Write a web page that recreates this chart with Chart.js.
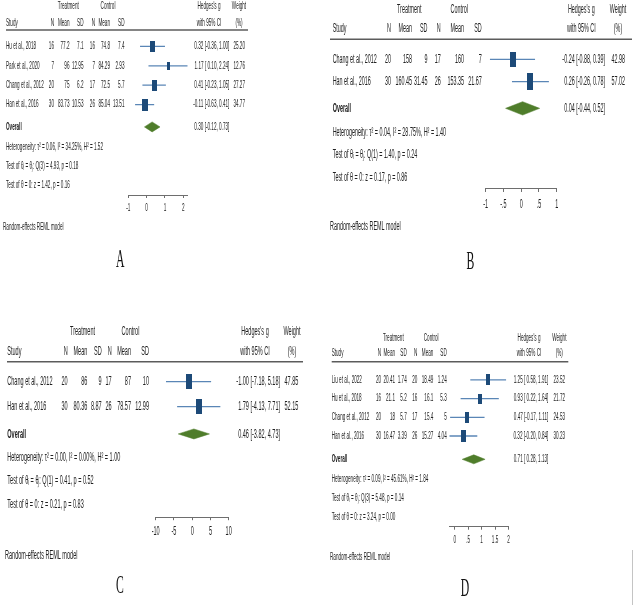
<!DOCTYPE html>
<html><head><meta charset="utf-8">
<script src="https://cdn.jsdelivr.net/npm/chart.js@4.4.0/dist/chart.umd.min.js"></script>
<style>
html,body{margin:0;padding:0;background:#fff;}
#wrap{position:relative;width:633px;height:605px;overflow:hidden;background:#fff;}
canvas{position:absolute;}
</style></head><body>
<div id="wrap">
<canvas id="pA" width="318" height="300" style="left:0px;top:0px"></canvas>
<canvas id="pB" width="313" height="300" style="left:320px;top:0px"></canvas>
<canvas id="pC" width="318" height="305" style="left:0px;top:300px"></canvas>
<canvas id="pD" width="313" height="305" style="left:320px;top:300px"></canvas>
<div style="position:absolute;left:632px;top:550px;width:1px;height:55px;background:#c4c4c4"></div>
</div>
<script>
// ---------- Panel A ----------
const studiesA = ["Hu et al., 2018", "Park et al., 2020", "Chang et al., 2012", "Han et al., 2016"];
const trtNA = [16, 7, 20, 30];
const trtMeanA = [77.2, 96, 75, 83.73];
const trtSDA = [7.1, 12.95, 6.2, 10.53];
const ctlNA = [16, 7, 17, 26];
const ctlMeanA = [74.8, 84.29, 72.5, 85.04];
const ctlSDA = [7.4, 2.93, 5.7, 13.51];
const effA = [0.32, 1.17, 0.41, -0.11];
const loA = [-0.36, 0.10, -0.23, -0.63];
const hiA = [1.00, 2.24, 1.05, 0.41];
const weightA = [25.20, 12.76, 27.27, 34.77];
const overallA = [0.30, -0.12, 0.73];
const statsA = ["Heterogeneity: τ² = 0.06, I² = 34.25%, H² = 1.52", "Test of θᵢ = θⱼ: Q(3) = 4.93, p = 0.18", "Test of θ = 0: z = 1.42, p = 0.16"];
const ticksA = [-1, 0, 1, 2];
const tickLabelsA = ["-1", "0", "1", "2"];

// ---------- Panel B ----------
const studiesB = ["Chang et al., 2012", "Han et al., 2016"];
const trtNB = [20, 30];
const trtMeanB = [158, 160.45];
const trtSDB = [9, 31.45];
const ctlNB = [17, 26];
const ctlMeanB = [160, 153.35];
const ctlSDB = [7, 21.67];
const effB = [-0.24, 0.26];
const loB = [-0.88, -0.26];
const hiB = [0.39, 0.78];
const weightB = [42.98, 57.02];
const overallB = [0.04, -0.44, 0.52];
const statsB = ["Heterogeneity: τ² = 0.04, I² = 28.75%, H² = 1.40", "Test of θᵢ = θⱼ: Q(1) = 1.40, p = 0.24", "Test of θ = 0: z = 0.17, p = 0.86"];
const ticksB = [-1, -0.5, 0, 0.5, 1];
const tickLabelsB = ["-1", "-.5", "0", ".5", "1"];

// ---------- Panel C ----------
const studiesC = ["Chang et al., 2012", "Han et al., 2016"];
const trtNC = [20, 30];
const trtMeanC = [86, 80.36];
const trtSDC = [9, 8.87];
const ctlNC = [17, 26];
const ctlMeanC = [87, 78.57];
const ctlSDC = [10, 12.99];
const effC = [-1.00, 1.79];
const loC = [-7.18, -4.13];
const hiC = [5.18, 7.71];
const weightC = [47.85, 52.15];
const overallC = [0.46, -3.82, 4.73];
const statsC = ["Heterogeneity: τ² = 0.00, I² = 0.00%, H² = 1.00", "Test of θᵢ = θⱼ: Q(1) = 0.41, p = 0.52", "Test of θ = 0: z = 0.21, p = 0.83"];
const ticksC = [-10, -5, 0, 5, 10];
const tickLabelsC = ["-10", "-5", "0", "5", "10"];

// ---------- Panel D ----------
const studiesD = ["Liu et al., 2022", "Hu et al., 2018", "Chang et al., 2012", "Han et al., 2016"];
const trtND = [20, 16, 20, 30];
const trtMeanD = [20.41, 21.1, 18, 16.47];
const trtSDD = [1.74, 5.2, 5.7, 3.39];
const ctlND = [20, 16, 17, 26];
const ctlMeanD = [18.49, 16.1, 15.4, 15.27];
const ctlSDD = [1.24, 5.3, 5, 4.04];
const effD = [1.25, 0.93, 0.47, 0.32];
const loD = [0.58, 0.22, -0.17, -0.20];
const hiD = [1.91, 1.64, 1.11, 0.84];
const weightD = [23.52, 21.72, 24.53, 30.23];
const overallD = [0.71, 0.28, 1.13];
const statsD = ["Heterogeneity: τ² = 0.09, I² = 45.61%, H² = 1.84", "Test of θᵢ = θⱼ: Q(3) = 5.48, p = 0.14", "Test of θ = 0: z = 3.24, p = 0.00"];
const ticksD = [0, 0.5, 1, 1.5, 2];
const tickLabelsD = ["0", ".5", "1", "1.5", "2"];

const headerCols = ["N", "Mean", "SD", "N", "Mean", "SD"];

// ---------- styling ----------
const CI_COLOR = '#5a86b6';
const SQ_COLOR = '#1d4a78';
const GREEN = '#4f7d2b';
const AXIS_COLOR = '#6e6e6e';
const TEXT_COLOR = '#222222';
const SANS = '"Liberation Sans", Arial, sans-serif';
const SERIF = '"Liberation Serif", "DejaVu Serif", serif';

// layout per panel (local pixel coordinates)
const layoutA = {W:318, H:300, xLeft:128.3, xRight:187.7, xMin:-1, xMax:2.24, top:27, unit:19.4,
  overallRow:5.15, statRows:[6.2, 7.16, 8.14], axisRow:8.66, tickLabelDy:13,
  hdr1Y:6, hdr2Y:22.7, lineY:30, lineX:[6, 248], studyX:6,
  colR:[54, 69.5, 83.5, 95, 110, 124.5], trtC:68.3, ctlC:108, hgC:209, wC:239, hgR:229.3, wR:245,
  randomX:3, randomY:226.7, letter:'A', letterX:120.3, letterY:260,
  font:10.5, sx:0.44, kv:2.1, kh:0.95, diaH:5};
const layoutB = {W:313, H:300, xLeft:165.7, xRight:236.7, xMin:-1, xMax:1, top:36.9, unit:22.4,
  overallRow:3.19, statRows:[4.28, 5.27, 6.27], axisRow:6.79, tickLabelDy:15.3,
  hdr1Y:10, hdr2Y:29, lineY:39.3, lineX:[10, 312], studyX:12.7,
  colR:[71, 92, 107.5, 120.7, 144, 161.7], trtC:89.2, ctlC:139.3, hgC:261.3, wC:298, hgR:285, wR:305,
  randomX:10, randomY:226.7, letter:'B', letterX:150.3, letterY:261.7,
  font:12, sx:0.45, kv:2.25, kh:0.85, diaH:6.7};
const layoutC = {W:318, H:305, xLeft:155.7, xRight:228.7, xMin:-10, xMax:10, top:56.7, unit:25,
  overallRow:3.09, statRows:[4.01, 4.96, 5.89], axisRow:6.42, tickLabelDy:14.4,
  hdr1Y:31.7, hdr2Y:51, lineY:61.7, lineX:[7, 303], studyX:7.3,
  colR:[67.7, 87.3, 101.7, 111.7, 131, 149], trtC:82.5, ctlC:130.5, hgC:255, wC:292, hgR:280, wR:298.3,
  randomX:5, randomY:255.7, letter:'C', letterX:120, letterY:286.5,
  font:13.4, sx:0.413, kv:2.1, kh:0.8, diaH:5};
const layoutD = {W:313, H:305, xLeft:129.3, xRight:188.5, xMin:-0.2, xMax:2, top:61.3, unit:18.67,
  overallRow:5.25, statRows:[6.3, 7.33, 8.35], axisRow:8.86, tickLabelDy:13.3,
  hdr1Y:38.3, hdr2Y:53.3, lineY:61.7, lineX:[11.7, 248.3], studyX:11.7,
  colR:[61, 75, 86.7, 97.3, 113.3, 126.7], trtC:73.3, ctlC:111.2, hgC:209, wC:239.3, hgR:228.3, wR:245,
  randomX:10, randomY:257.3, letter:'D', letterX:145, letterY:289,
  font:10, sx:0.46, kv:2.2, kh:0.9, diaH:4.5};

function ciText(e, lo, hi) {
  const f = v => (v >= 0 ? ' ' : '') + v.toFixed(2);
  return e.toFixed(2) + ' [' + f(lo) + ', ' + hi.toFixed(2) + ']';
}

function rectImg(w, h, color) {
  const c = document.createElement('canvas');
  c.width = Math.max(1, Math.round(w));
  c.height = Math.max(1, Math.round(h));
  const g = c.getContext('2d');
  g.fillStyle = color;
  g.fillRect(0, 0, c.width, c.height);
  return c;
}

function textPlugin(D, L) {
  return {
    id: 'forestText' + L.letter,
    afterDraw(chart) {
      const ctx = chart.ctx;
      const xs = chart.scales.x, ys = chart.scales.y;
      const txt = (s, x, y, align, bold) => {
        ctx.save();
        ctx.font = (bold ? 'bold ' : '') + L.font + 'px ' + SANS;
        ctx.fillStyle = TEXT_COLOR;
        ctx.textBaseline = 'middle';
        ctx.textAlign = align;
        ctx.translate(x, y);
        ctx.scale(L.sx, 1);
        ctx.fillText(s, 0, 0);
        ctx.restore();
      };
      // headers
      txt('Treatment', L.trtC, L.hdr1Y, 'center');
      txt('Control', L.ctlC, L.hdr1Y, 'center');
      txt("Hedges's g", L.hgC, L.hdr1Y, 'center');
      txt('Weight', L.wC, L.hdr1Y, 'center');
      txt('Study', L.studyX, L.hdr2Y, 'left');
      headerCols.forEach((h, i) => txt(h, L.colR[i], L.hdr2Y, 'right'));
      txt('with 95% CI', L.hgC, L.hdr2Y, 'center');
      txt('(%)', L.wC, L.hdr2Y, 'center');
      ctx.save();
      ctx.strokeStyle = '#5c5c5c';
      ctx.lineWidth = 1.5;
      ctx.beginPath();
      ctx.moveTo(L.lineX[0], L.lineY);
      ctx.lineTo(L.lineX[1], L.lineY);
      ctx.stroke();
      ctx.restore();
      // study rows
      D.studies.forEach((s, i) => {
        const y = ys.getPixelForValue(i + 1);
        txt(s, L.studyX, y, 'left');
        const vals = [D.trtN[i], D.trtMean[i], D.trtSD[i], D.ctlN[i], D.ctlMean[i], D.ctlSD[i]];
        vals.forEach((v, j) => txt(String(v), L.colR[j], y, 'right'));
        txt(ciText(D.eff[i], D.lo[i], D.hi[i]), L.hgR, y, 'right');
        txt(D.weight[i].toFixed(2), L.wR, y, 'right');
      });
      // overall
      const yo = ys.getPixelForValue(L.overallRow);
      txt('Overall', L.studyX, yo, 'left', true);
      txt(ciText(D.overall[0], D.overall[1], D.overall[2]), L.hgR, yo, 'right');
      D.stats.forEach((s, i) => txt(s, L.studyX, ys.getPixelForValue(L.statRows[i]), 'left'));
      // tick labels
      const ty = ys.getPixelForValue(L.axisRow) + L.tickLabelDy;
      D.ticks.forEach((v, i) => txt(D.tickLabels[i], xs.getPixelForValue(v), ty, 'center'));
      txt('Random-effects REML model', L.randomX, L.randomY, 'left');
      // panel letter
      ctx.save();
      ctx.font = '26px ' + SERIF;
      ctx.fillStyle = '#111';
      ctx.textAlign = 'center';
      ctx.textBaseline = 'middle';
      ctx.translate(L.letterX, L.letterY);
      ctx.scale(0.45, 1);
      ctx.fillText(L.letter, 0, 0);
      ctx.restore();
    }
  };
}

function buildPanel(canvasId, D, L) {
  const tickLen = 3;
  const axisY = L.top + L.axisRow * L.unit;
  const datasets = [];
  D.eff.forEach((e, i) => {
    datasets.push({type: 'line', data: [{x: D.lo[i], y: i + 1}, {x: D.hi[i], y: i + 1}],
      borderColor: CI_COLOR, borderWidth: 1.3, pointRadius: 0, fill: false, order: 2});
  });
  datasets.push({type: 'line', showLine: false,
    data: D.eff.map((e, i) => ({x: e, y: i + 1})),
    pointStyle: D.weight.map(w => rectImg(L.kh * Math.sqrt(w), L.kv * Math.sqrt(w), SQ_COLOR)),
    pointRadius: 3, order: 1});
  const oe = D.overall[0], olo = D.overall[1], ohi = D.overall[2];
  const r = L.overallRow, h = L.diaH / L.unit;
  datasets.push({type: 'line',
    data: [{x: olo, y: r}, {x: oe, y: r - h}, {x: ohi, y: r}, {x: oe, y: r + h}, {x: olo, y: r}],
    borderColor: GREEN, backgroundColor: GREEN, borderWidth: 0.5, pointRadius: 0, fill: 'shape', order: 3});
  new Chart(document.getElementById(canvasId), {
    type: 'line',
    data: {datasets},
    options: {
      responsive: false, animation: false, events: [], devicePixelRatio: 1,
      layout: {padding: {left: L.xLeft, right: L.W - L.xRight, top: L.top, bottom: L.H - axisY - tickLen}},
      scales: {
        x: {type: 'linear', min: L.xMin, max: L.xMax,
          afterBuildTicks: s => { s.ticks = D.ticks.map(v => ({value: v})); },
          grid: {drawOnChartArea: false, drawTicks: true, tickLength: tickLen, color: AXIS_COLOR, lineWidth: 1},
          border: {display: true, color: AXIS_COLOR, width: 1},
          ticks: {display: false}},
        y: {type: 'linear', display: false, reverse: true, min: 0, max: L.axisRow}
      },
      plugins: {legend: {display: false}, tooltip: {enabled: false}}
    },
    plugins: [textPlugin(D, L)]
  });
}

buildPanel('pA', {studies: studiesA, trtN: trtNA, trtMean: trtMeanA, trtSD: trtSDA, ctlN: ctlNA, ctlMean: ctlMeanA, ctlSD: ctlSDA,
  eff: effA, lo: loA, hi: hiA, weight: weightA, overall: overallA, stats: statsA, ticks: ticksA, tickLabels: tickLabelsA}, layoutA);
buildPanel('pB', {studies: studiesB, trtN: trtNB, trtMean: trtMeanB, trtSD: trtSDB, ctlN: ctlNB, ctlMean: ctlMeanB, ctlSD: ctlSDB,
  eff: effB, lo: loB, hi: hiB, weight: weightB, overall: overallB, stats: statsB, ticks: ticksB, tickLabels: tickLabelsB}, layoutB);
buildPanel('pC', {studies: studiesC, trtN: trtNC, trtMean: trtMeanC, trtSD: trtSDC, ctlN: ctlNC, ctlMean: ctlMeanC, ctlSD: ctlSDC,
  eff: effC, lo: loC, hi: hiC, weight: weightC, overall: overallC, stats: statsC, ticks: ticksC, tickLabels: tickLabelsC}, layoutC);
buildPanel('pD', {studies: studiesD, trtN: trtND, trtMean: trtMeanD, trtSD: trtSDD, ctlN: ctlND, ctlMean: ctlMeanD, ctlSD: ctlSDD,
  eff: effD, lo: loD, hi: hiD, weight: weightD, overall: overallD, stats: statsD, ticks: ticksD, tickLabels: tickLabelsD}, layoutD);
</script>
</body></html>
